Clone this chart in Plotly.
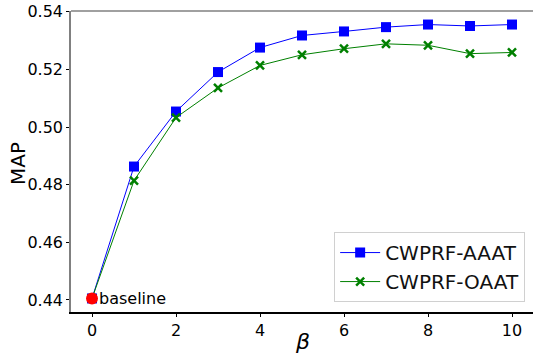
import plotly.graph_objects as go

beta = [0, 1, 2, 3, 4, 5, 6, 7, 8, 9, 10]
map_aaat = [0.4405, 0.4863, 0.5054, 0.5191, 0.5276, 0.5318, 0.5332, 0.5347, 0.5356, 0.5351, 0.5356]
map_oaat = [0.4405, 0.4814, 0.5033, 0.5136, 0.5214, 0.5251, 0.5272, 0.5289, 0.5284, 0.5255, 0.5259]
baseline_x = [0]
baseline_y = [0.4405]
y_ticks = [0.44, 0.46, 0.48, 0.50, 0.52, 0.54]
x_ticks = [0, 2, 4, 6, 8, 10]

FONT = "DejaVu Sans"

fig = go.Figure()
fig.add_trace(go.Scatter(
    x=beta, y=map_aaat, mode="lines+markers", name="CWPRF-AAAT",
    line=dict(color="blue", width=1),
    marker=dict(symbol="square", size=10, color="blue", line=dict(width=0)),
))
fig.add_trace(go.Scatter(
    x=beta, y=map_oaat, mode="lines+markers", name="CWPRF-OAAT",
    line=dict(color="green", width=1),
    marker=dict(symbol="x-thin", size=8, color="green", line=dict(width=2.5, color="green")),
))
fig.add_trace(go.Scatter(
    x=baseline_x, y=baseline_y, mode="markers", showlegend=False,
    marker=dict(symbol="circle", size=12, color="red", line=dict(width=0)),
))
fig.add_annotation(
    x=baseline_x[0], y=baseline_y[0], text="baseline", showarrow=False,
    xanchor="left", yanchor="middle", xshift=5,
    font=dict(family=FONT, size=16, color="black"),
)
# axis titles
fig.add_annotation(
    xref="paper", yref="paper", x=(302 - 71) / 462, y=-(341 - 312) / 301,
    text="<i>β</i>", showarrow=False, xanchor="center", yanchor="middle",
    font=dict(family=FONT, size=22, color="black"),
)
fig.add_annotation(
    xref="paper", yref="paper", x=-(71 - 18) / 462, y=(312 - 164) / 301,
    text="MAP", showarrow=False, xanchor="center", yanchor="middle", textangle=-90,
    font=dict(family=FONT, size=20, color="black"),
)
# top spine (gray)
fig.add_shape(type="line", xref="paper", yref="paper", x0=0, x1=1, y0=1, y1=1,
              line=dict(color="#808080", width=1.5))

fig.update_layout(
    width=534, height=354,
    margin=dict(l=71, r=1, t=11, b=42),
    paper_bgcolor="white", plot_bgcolor="white",
    font=dict(family=FONT, color="black"),
    legend=dict(
        x=0.983, y=0.033, xanchor="right", yanchor="bottom",
        bordercolor="#d0d0d0", borderwidth=1, bgcolor="white",
        font=dict(family=FONT, size=20, color="#111111"),
        tracegroupgap=0, itemwidth=40,
    ),
    xaxis=dict(
        range=[-0.5, 10.5], tickvals=x_ticks, ticktext=[str(v) for v in x_ticks],
        showgrid=False, zeroline=False, showline=True, linecolor="black", linewidth=1.5,
        ticks="outside", ticklen=3, tickcolor="black", automargin=False,
        tickfont=dict(family=FONT, size=16),
    ),
    yaxis=dict(
        range=[0.4358, 0.5403], tickvals=y_ticks, ticktext=[f"{v:.2f}" for v in y_ticks],
        showgrid=False, zeroline=False, showline=True, linecolor="#808080", linewidth=1.5,
        ticks="outside", ticklen=3, tickcolor="black", automargin=False,
        tickfont=dict(family=FONT, size=16),
    ),
)

fig.write_html("out.html", config={"displayModeBar": False},
               post_script="document.body.style.margin='0';")
